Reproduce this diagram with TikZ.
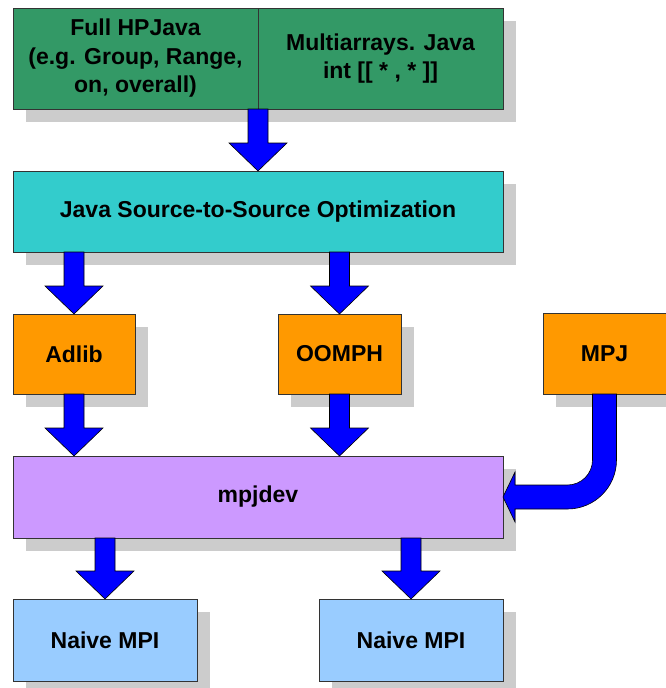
\documentclass[tikz,border=0pt]{standalone}
\usepackage{fontspec}
\setmainfont{Liberation Sans}
\usetikzlibrary{calc,shadows}
\definecolor{cgreen}{HTML}{339966}
\definecolor{ccyan}{HTML}{33CCCC}
\definecolor{corange}{HTML}{FF9900}
\definecolor{cpurple}{HTML}{CC99FF}
\definecolor{clblue}{HTML}{99CCFF}
\definecolor{cshadow}{HTML}{CCCCCC}
\definecolor{cblue}{HTML}{0000FF}
\definecolor{cborder}{HTML}{333333}
\tikzset{
  box/.style={draw=cborder, line width=0.9pt, inner sep=0pt, outer sep=0pt,
    anchor=north west, align=center,
    font=\fontsize{23}{28.5}\selectfont\bfseries,
    drop shadow={shadow xshift=13pt, shadow yshift=-13pt, fill=cshadow, opacity=1}},
  blk/.style={fill=cblue, draw=black, line width=0.6pt, line join=miter},
}
\newcommand\blockdown[2]{%
  \draw[blk] let \p1=(#1), \p2=(#2) in
    (\x2-10pt,\y1) -- (\x2-10pt,\y2+28pt) -- (\x2-29pt,\y2+28pt) -- (\x2,\y2)
    -- (\x2+29pt,\y2+28pt) -- (\x2+10pt,\y2+28pt) -- (\x2+10pt,\y1) -- cycle;}
\begin{document}
\begin{tikzpicture}[x=1pt,y=-1pt]
\useasboundingbox (0,0) rectangle (666,688);
% boxes
\node[box, fill=cgreen, minimum width=245pt, minimum height=101pt] (hp) at (13,8)
  {Full HPJava\\(e.g. Group, Range,\\on, overall)};
\node[box, fill=cgreen, minimum width=245pt, minimum height=101pt] (multi) at (258,8)
  {Multiarrays. Java\\int [[ * , * ]]};
\node[box, fill=ccyan, minimum width=490pt, minimum height=81pt] (opt) at (13,171)
  {Java Source-to-Source Optimization};
\node[box, fill=corange, minimum width=122pt, minimum height=80pt] (adlib) at (13,314) {Adlib};
\node[box, fill=corange, minimum width=123pt, minimum height=80pt] (oomph) at (278,314) {OOMPH};
\node[box, fill=corange, minimum width=123pt, minimum height=81pt] (mpj) at (543,313) {MPJ};
\node[box, fill=cpurple, minimum width=490pt, minimum height=82pt] (mpjdev) at (13,456) {mpjdev};
\node[box, fill=clblue, minimum width=184pt, minimum height=82pt] (naive1) at (13,599) {Naive MPI};
\node[box, fill=clblue, minimum width=184pt, minimum height=82pt] (naive2) at (319,599) {Naive MPI};
% block arrows
\blockdown{hp.south east}{opt.north}
\blockdown{opt.south}{adlib.north}
\blockdown{opt.south}{oomph.north}
\blockdown{adlib.south}{adlib.south |- mpjdev.north}
\blockdown{oomph.south}{oomph.south |- mpjdev.north}
\blockdown{mpjdev.south}{naive1.north}
\blockdown{mpjdev.south}{naive2.north}
% curved arrow MPJ -> mpjdev
\draw[blk] let \p1=(mpj.south), \p2=(mpjdev.east) in
  (\x1+12pt,\y1) -- (\x1+12pt,\y2+37pt)
  arc[start angle=0, end angle=-90, radius=49pt]
  -- (\x2+12pt,\y2-12pt) -- (\x2+12pt,\y2-25pt) -- (\x2,\y2)
  -- (\x2+12pt,\y2+25pt) -- (\x2+12pt,\y2+12pt) -- (\x1-37pt,\y2+12pt)
  arc[start angle=-90, end angle=0, radius=25pt]
  -- (\x1-12pt,\y1) -- cycle;
\end{tikzpicture}
\end{document}
